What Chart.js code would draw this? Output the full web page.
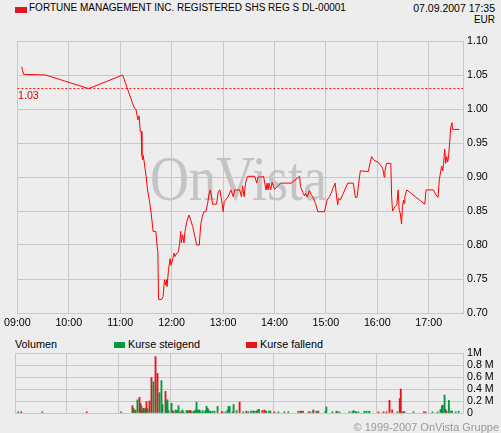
<!DOCTYPE html>
<html>
<head>
<meta charset="utf-8">
<script src="https://cdn.jsdelivr.net/npm/chart.js@4.4.1/dist/chart.umd.min.js"></script>
<style>
  body { margin: 0; background: #ededed; font-family: "Liberation Sans", Arial, sans-serif; }
  #wrap { position: relative; width: 501px; height: 433px; overflow: hidden; background: #ededed; }
  canvas { position: absolute; left: 0; }
  .txt { position: absolute; white-space: nowrap; line-height: 12px; color: #000; }
  .box { position: absolute; width: 11px; height: 6px; }
</style>
</head>
<body>
<div id="wrap">
  <div class="box" style="left:15px;top:7px;width:12px;background:#e8141b"></div>
  <div class="txt" style="left:29px;top:2px;font-size:10px">FORTUNE MANAGEMENT INC. REGISTERED SHS REG S DL-00001</div>
  <div class="txt" style="right:6px;top:2px;font-size:10.5px">07.09.2007 17:35</div>
  <div class="txt" style="right:6px;top:14px;font-size:10px">EUR</div>
  <canvas id="priceChart" width="501" height="330" style="top:0;width:501px;height:330px"></canvas>
  <div class="txt" style="left:15px;top:338px;font-size:10.8px">Volumen</div>
  <div class="box" style="left:114px;top:342px;background:#00993c"></div>
  <div class="txt" style="left:128px;top:338px;font-size:10.8px">Kurse steigend</div>
  <div class="box" style="left:246px;top:342px;background:#e8141b"></div>
  <div class="txt" style="left:260px;top:338px;font-size:10.8px">Kurse fallend</div>
  <canvas id="volumeChart" width="501" height="103" style="top:330px;width:501px;height:103px"></canvas>
  <div class="txt" style="right:2px;top:421px;font-size:11px;color:#999">© 1999-2007 OnVista Gruppe</div>
</div>
<script>
// x axis: minutes after 09:00
const hourLabels = ["09:00", "10:00", "11:00", "12:00", "13:00", "14:00", "15:00", "16:00", "17:00"];
const priceTickLabels = ["0.70", "0.75", "0.80", "0.85", "0.90", "0.95", "1.00", "1.05", "1.10"];
const volTickLabels = ["0", "0.2 M", "0.4 M", "0.6 M", "0.8 M", "1M"];
const volTickValues = [0, 0.2, 0.4, 0.6, 0.8, 1];
const prevClose = 1.03;

const priceTimes = [
  5.0, 7.3, 32.9, 83.3, 122.8, 129.0, 134.5, 136.8, 138.3, 140.6, 142.1, 143.3, 144.5, 145.3, 146.1, 146.8,
  148.0, 150.3, 151.9, 154.2, 156.1, 158.4, 161.6, 162.7, 163.9, 164.7, 168.5, 170.0, 171.7, 173.2, 174.0,
  174.7, 176.3, 178.2, 179.3, 181.0, 182.8, 184.0, 186.0, 187.9, 189.1, 190.6, 191.4, 192.9, 194.4, 195.6,
  197.6, 200.3, 202.2, 204.6, 207.2, 209.2, 212.3, 213.9, 215.8, 217.7, 220.0, 222.0, 223.5, 225.1, 226.6,
  227.8, 232.4, 234.4, 236.3, 238.3, 240.2, 241.4, 246.0, 249.1, 251.9, 253.7, 259.5, 261.5, 262.7, 264.6,
  266.2, 268.5, 277.0, 279.3, 280.9, 284.8, 287.4, 288.6, 290.2, 291.4, 292.5, 293.7, 295.6, 297.2, 300.2,
  304.2, 307.2, 319.6, 329.3, 330.4, 333.2, 335.1, 336.2, 338.2, 340.9, 342.9, 345.5, 347.9, 350.6, 358.3,
  361.5, 364.1, 366.1, 368.1, 370.8, 372.7, 373.9, 374.6, 376.9, 379.7, 385.5, 392.0, 394.4, 396.3, 398.3,
  400.2, 409.5, 411.8, 413.4, 415.7, 420.4, 423.4, 426.2, 428.1, 428.9, 430.8, 435.8, 436.7, 437.8, 440.5,
  442.8, 444.3, 445.5, 446.7, 448.3, 449.4, 450.6, 451.3, 452.1, 454.4, 475.4, 476.9, 485.5, 487.8, 490.8,
  492.4, 493.9, 495.1, 496.3, 497.4, 498.6, 499.8, 500.9, 502.1, 503.2, 504.4, 505.6, 507.1, 507.9, 515.7
];
const prices = [
  1.062, 1.051, 1.05, 1.03, 1.05, 1.028, 1.008, 1.001, 1.0, 0.984, 0.99, 0.967, 0.967, 0.932, 0.925, 0.932,
  0.922, 0.90, 0.881, 0.864, 0.847, 0.82, 0.82, 0.803, 0.79, 0.72, 0.72, 0.724, 0.749, 0.741, 0.749,
  0.739, 0.763, 0.78, 0.77, 0.778, 0.788, 0.783, 0.788, 0.79, 0.80, 0.82, 0.803, 0.815, 0.803, 0.82,
  0.834, 0.844, 0.837, 0.827, 0.812, 0.80, 0.80, 0.829, 0.842, 0.849, 0.849, 0.861, 0.874, 0.881, 0.871,
  0.86, 0.86, 0.878, 0.881, 0.866, 0.849, 0.864, 0.871, 0.881, 0.871, 0.881, 0.881, 0.871, 0.887, 0.871,
  0.891, 0.901, 0.901, 0.891, 0.90, 0.90, 0.901, 0.891, 0.881, 0.891, 0.881, 0.891, 0.881, 0.892, 0.882,
  0.887, 0.891, 0.891, 0.901, 0.886, 0.877, 0.872, 0.876, 0.871, 0.88, 0.874, 0.869, 0.861, 0.849, 0.849,
  0.866, 0.871, 0.876, 0.883, 0.891, 0.869, 0.859, 0.869, 0.866, 0.874, 0.891, 0.891, 0.87, 0.87, 0.891,
  0.909, 0.908, 0.922, 0.93, 0.925, 0.922, 0.918, 0.913, 0.90, 0.909, 0.92, 0.92, 0.871, 0.85, 0.856,
  0.859, 0.881, 0.851, 0.847, 0.831, 0.857, 0.866, 0.861, 0.871, 0.881, 0.86, 0.881, 0.881, 0.875, 0.87,
  0.896, 0.908, 0.916, 0.909, 0.92, 0.941, 0.92, 0.93, 0.922, 0.931, 0.95, 0.972, 0.98, 0.97, 0.97
];

// volume in millions, "Kurse steigend" (green) and "Kurse fallend" (red)
const upTimes = [
  3.8, 31.7, 123.2, 137.5, 139.8, 142.1, 146.8, 150.3, 153.8, 160.7, 167.7, 170.0, 171.2, 175.8, 177.0,
  178.2, 181.7, 186.3, 187.5, 188.6, 189.8, 193.3, 194.4, 195.6, 199.1, 200.3, 204.9, 207.2, 209.5, 210.7,
  211.9, 213.0, 214.2, 215.4, 217.7, 220.0, 221.2, 222.3, 223.5, 224.7, 227.0, 229.3, 231.6, 235.1, 244.4,
  246.7, 247.9, 249.1, 253.7, 257.2, 265.0, 270.8, 273.9, 276.3, 277.8, 281.6, 283.2, 290.6, 291.7, 294.9,
  296.4, 305.7, 312.6, 317.3, 328.9, 334.4, 342.8, 346.0, 349.8, 351.0, 360.3, 361.4, 368.4, 374.2, 376.6,
  388.2, 391.7, 393.2, 396.3, 398.6, 405.6, 407.9, 410.3, 411.4, 444.0, 452.1, 462.6, 484.6, 490.5, 493.9,
  495.5, 496.6, 498.6, 503.6, 505.6, 507.3, 511.4, 514.9
];
const upVolume = [
  0.02, 0.02, 0.02, 0.08, 0.05, 0.22, 0.12, 0.05, 0.07, 0.52, 0.34, 0.54, 0.14, 0.20, 0.22,
  0.04, 0.16, 0.05, 0.04, 0.04, 0.12, 0.02, 0.05, 0.02, 0.04, 0.04, 0.02, 0.03, 0.05, 0.18,
  0.04, 0.05, 0.05, 0.02, 0.04, 0.02, 0.04, 0.11, 0.08, 0.05, 0.03, 0.03, 0.03, 0.11, 0.02,
  0.05, 0.11, 0.11, 0.14, 0.04, 0.02, 0.02, 0.03, 0.03, 0.03, 0.05, 0.06, 0.03, 0.03, 0.03,
  0.03, 0.02, 0.02, 0.02, 0.03, 0.03, 0.02, 0.03, 0.03, 0.03, 0.03, 0.10, 0.02, 0.02, 0.02,
  0.02, 0.03, 0.04, 0.02, 0.02, 0.03, 0.03, 0.02, 0.03, 0.02, 0.02, 0.02, 0.02, 0.02, 0.06,
  0.12, 0.13, 0.30, 0.21, 0.03, 0.03, 0.02, 0.03
];
const downTimes = [
  7.3, 83.3, 136.3, 138.7, 144.5, 145.6, 148.0, 149.1, 151.4, 152.6, 156.1, 158.4, 163.1, 165.4, 174.7,
  182.8, 184.0, 192.1, 201.4, 202.6, 203.7, 208.4, 225.8, 239.8, 240.9, 252.5, 260.7, 268.5, 280.1, 287.1,
  289.4, 301.0, 331.2, 332.4, 340.9, 346.3, 352.1, 373.1, 395.1, 421.9, 427.7, 431.2, 434.7, 437.8, 446.6,
  447.8, 449.8, 451.3, 474.5, 476.5, 499.7, 500.9
];
const downVolume = [
  0.02, 0.02, 0.12, 0.04, 0.26, 0.16, 0.05, 0.08, 0.08, 0.19, 0.20, 0.59, 0.94, 0.66, 0.36,
  0.04, 0.02, 0.02, 0.03, 0.04, 0.04, 0.03, 0.02, 0.02, 0.02, 0.02, 0.18, 0.03, 0.03, 0.04,
  0.05, 0.02, 0.03, 0.03, 0.02, 0.05, 0.03, 0.03, 0.02, 0.02, 0.02, 0.02, 0.21, 0.05, 0.24,
  0.40, 0.02, 0.02, 0.02, 0.02, 0.06, 0.03
];

const gridColor = "#c8c8c8";
const tickFont = { family: "'Liberation Sans', Arial, sans-serif", size: 10.7 };
const maxMinute = 520;

function pairs(xs, ys) {
  return xs.map((x, i) => ({ x: x, y: ys[i] }));
}

function hourTicks(scale) {
  scale.ticks = hourLabels.map((_, i) => ({ value: i * 60 }));
}

// grey OnVista watermark plus the "1.03" label of the previous close line
const decorations = {
  id: "decorations",
  beforeDatasetsDraw(chart) {
    const ctx = chart.ctx;
    ctx.save();
    ctx.font = "64px 'Liberation Serif', serif";
    ctx.fillStyle = "#c4c4c4";
    ctx.textBaseline = "alphabetic";
    const w = ctx.measureText("OnVista").width;
    ctx.translate(150, 200);
    ctx.scale(177 / w, 1);
    ctx.fillText("OnVista", 0, 0);
    ctx.restore();
  },
  afterDatasetsDraw(chart) {
    const ctx = chart.ctx;
    const y = chart.scales.y.getPixelForValue(prevClose);
    ctx.save();
    ctx.font = "10.7px 'Liberation Sans', Arial, sans-serif";
    ctx.fillStyle = "#e00000";
    ctx.textBaseline = "middle";
    ctx.fillText(prevClose.toFixed(2), 18, y + 7);
    ctx.restore();
  }
};

new Chart(document.getElementById("priceChart"), {
  type: "line",
  data: {
    datasets: [
      {
        data: pairs(priceTimes, prices),
        borderColor: "#ff0000",
        borderWidth: 1,
        pointRadius: 0,
        tension: 0
      },
      {
        data: [{ x: 0, y: prevClose }, { x: maxMinute, y: prevClose }],
        borderColor: "#ff0000",
        borderWidth: 1,
        borderDash: [2, 2],
        pointRadius: 0
      }
    ]
  },
  options: {
    responsive: false,
    animation: false,
    layout: { padding: { left: 15, top: 41, right: 0, bottom: 0 } },
    plugins: { legend: { display: false }, tooltip: { enabled: false } },
    scales: {
      x: {
        type: "linear",
        min: 0,
        max: maxMinute,
        afterBuildTicks: hourTicks,
        afterFit: (s) => { s.height = 17; },
        ticks: {
          callback: (v, i) => hourLabels[i],
          color: "#000",
          font: tickFont,
          padding: 4,
          maxRotation: 0,
          autoSkip: false
        },
        grid: { color: gridColor, drawTicks: false },
        border: { color: gridColor }
      },
      y: {
        position: "right",
        min: 0.7,
        max: 1.1,
        afterBuildTicks: (s) => { s.ticks = priceTickLabels.map((l) => ({ value: parseFloat(l) })); },
        afterFit: (s) => { s.width = 38; },
        ticks: {
          callback: (v, i) => priceTickLabels[i],
          color: "#000",
          font: tickFont,
          padding: 4,
          autoSkip: false
        },
        grid: { color: gridColor, drawTicks: false },
        border: { color: gridColor }
      }
    }
  },
  plugins: [decorations]
});

new Chart(document.getElementById("volumeChart"), {
  type: "bar",
  data: {
    datasets: [
      { label: "Kurse steigend", data: pairs(upTimes, upVolume), backgroundColor: "#00993c", barThickness: 1.2, grouped: false },
      { label: "Kurse fallend", data: pairs(downTimes, downVolume), backgroundColor: "#e8141b", barThickness: 1.2, grouped: false }
    ]
  },
  options: {
    responsive: false,
    animation: false,
    layout: { padding: { left: 15, top: 23, right: 0, bottom: 0 } },
    plugins: { legend: { display: false }, tooltip: { enabled: false } },
    scales: {
      x: {
        type: "linear",
        min: 0,
        max: maxMinute,
        offset: false,
        afterBuildTicks: hourTicks,
        afterFit: (s) => { s.height = 20; },
        ticks: { display: false },
        grid: { color: gridColor, drawTicks: false, offset: false },
        border: { color: gridColor }
      },
      y: {
        position: "right",
        min: 0,
        max: 1,
        afterBuildTicks: (s) => { s.ticks = volTickValues.map((v) => ({ value: v })); },
        afterFit: (s) => { s.width = 38; },
        ticks: {
          callback: (v, i) => volTickLabels[i],
          color: "#000",
          font: tickFont,
          padding: 4,
          autoSkip: false
        },
        grid: { color: gridColor, drawTicks: false },
        border: { color: gridColor }
      }
    }
  }
});
</script>
</body>
</html>
